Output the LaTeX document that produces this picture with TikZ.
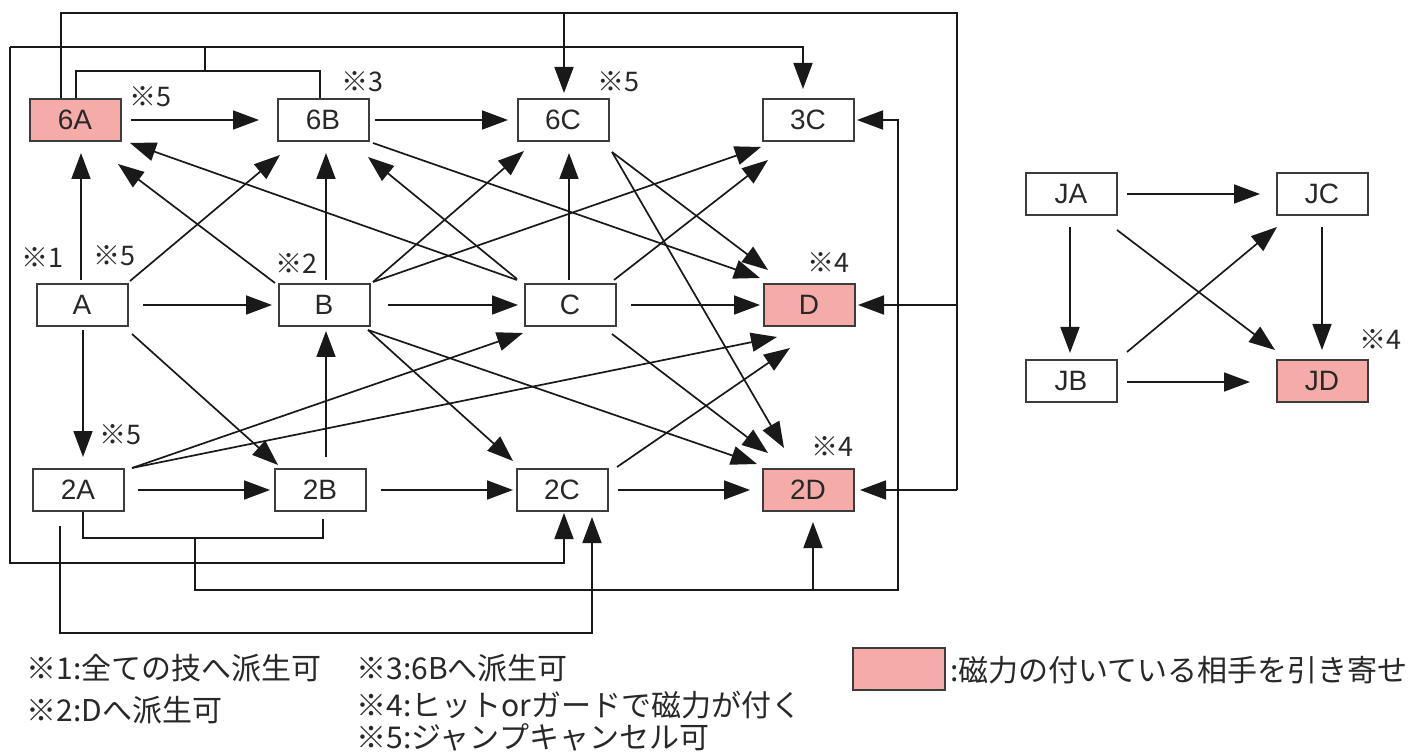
\documentclass[tikz,border=0pt]{standalone}
\usepackage{fontspec}
\setmainfont{Liberation Sans}
\newfontfamily\jp{Noto Sans CJK JP}
\usetikzlibrary{arrows.meta}
\definecolor{pinkc}{RGB}{245,172,168}
\definecolor{linec}{RGB}{25,25,25}
\definecolor{boxc}{RGB}{60,60,60}
\definecolor{textc}{RGB}{40,40,40}
\begin{document}
\begin{tikzpicture}[x=0.5pt,y=-0.5pt,
  box/.style={draw=boxc, line width=1pt, fill=white, minimum width=45.5pt, minimum height=21pt, inner sep=0pt, text=textc, font=\fontsize{14}{14}\selectfont},
  mag/.style={box, fill=pinkc},
  note/.style={font=\jp\fontsize{13.5}{13.5}\selectfont, inner sep=0pt, text=textc},
  legend/.style={font=\jp\fontsize{15}{15}\selectfont, inner sep=0pt, text=textc, anchor=west},
  ln/.style={draw=linec, line width=0.85pt},
  arr/.style={ln, -{Triangle[length=13pt,width=9.5pt]}},
]
\useasboundingbox[fill=white] (0,0) rectangle (1425,754);

% nodes
\node[mag] (n6A) at (75,120) {6A};
\node[box] (n6B) at (323,120) {6B};
\node[box] (n6C) at (563,120) {6C};
\node[box] (n3C) at (808,120) {3C};
\node[box] (nA) at (82,305) {A};
\node[box] (nB) at (324,305) {B};
\node[box] (nC) at (570,305) {C};
\node[mag] (nD) at (809,305) {D};
\node[box] (n2A) at (78,490) {2A};
\node[box] (n2B) at (320,490) {2B};
\node[box] (n2C) at (562,490) {2C};
\node[mag] (n2D) at (808,490) {2D};
\node[box] (JA) at (1071,194) {JA};
\node[box] (JC) at (1322,194) {JC};
\node[box] (JB) at (1071,381) {JB};
\node[mag] (JD) at (1322,381) {JD};

% notes
\node[note] (k5a) at (150,97) {※5};
\node[note] (k3) at (362,82) {※3};
\node[note] (k5c) at (618,82) {※5};
\node[note] (k1) at (42,258) {※1};
\node[note] (k5A) at (114,256) {※5};
\node[note] (k2) at (296,264) {※2};
\node[note] (k4D) at (828,263) {※4};
\node[note] (k42D) at (832,447) {※4};
\node[note] (k52A) at (120,435) {※5};
\node[note] (k4J) at (1380,340) {※4};

% horizontal arrows
\draw[arr] ([shift={(56,0)}]n6A.center) -- ([shift={(-64,0)}]n6B.center);
\draw[arr] ([shift={(52,0)}]n6B.center) -- ([shift={(-55,0)}]n6C.center);
\draw[arr] ([shift={(61,0)}]nA.center) -- ([shift={(-52,0)}]nB.center);
\draw[arr] ([shift={(64,0)}]nB.center) -- ([shift={(-52,0)}]nC.center);
\draw[arr] ([shift={(61,0)}]nC.center) -- ([shift={(-49,0)}]nD.center);
\draw[arr] ([shift={(60,0)}]n2A.center) -- ([shift={(-50,0)}]n2B.center);
\draw[arr] ([shift={(61,0)}]n2B.center) -- ([shift={(-49,0)}]n2C.center);
\draw[arr] ([shift={(56,0)}]n2C.center) -- ([shift={(-58,0)}]n2D.center);

% vertical arrows
\draw[arr] ([shift={(-1,-25)}]nA.center) -- ([shift={(6,33)}]n6A.center);
\draw[arr] ([shift={(2,-25)}]nB.center) -- ([shift={(3,33)}]n6B.center);
\draw[arr] ([shift={(-1,-25)}]nC.center) -- ([shift={(6,33)}]n6C.center);
\draw[arr] ([shift={(1,25)}]nA.center) -- ([shift={(5,-33)}]n2A.center);
\draw[arr] ([shift={(6,-33)}]n2B.center) -- ([shift={(2,26)}]nB.center);

% diagonal arrows (upwards)
\draw[arr] ([shift={(48,-24)}]nA.center) -- ([shift={(-43,35)}]n6B.center);
\draw[arr] ([shift={(-49,-22)}]nB.center) -- ([shift={(43,44)}]n6A.center);
\draw[arr] ([shift={(-53,-25)}]nC.center) -- ([shift={(55,23)}]n6A.center);
\draw[arr] ([shift={(-53,-26)}]nC.center) -- ([shift={(45,37)}]n6B.center);
\draw[arr] ([shift={(49,-23)}]nB.center) -- ([shift={(-39,31)}]n6C.center);
\draw[arr] ([shift={(49,-23)}]nB.center) -- ([shift={(-47,27)}]n3C.center);
\draw[arr] ([shift={(44,-25)}]nC.center) -- ([shift={(-40,40)}]n3C.center);
\draw[arr] ([shift={(54,-22)}]n2A.center) -- ([shift={(-47,28)}]nC.center);
\draw[arr] ([shift={(54,-22)}]n2A.center) -- ([shift={(-32,32)}]nD.center);
\draw[arr] ([shift={(55,-23)}]n2C.center) -- ([shift={(-19,43)}]nD.center);

% diagonal arrows (downwards)
\draw[arr] ([shift={(50,23)}]n6B.center) -- ([shift={(-49,-27)}]nD.center);
\draw[arr] ([shift={(49,32)}]n6C.center) -- ([shift={(-41,-35)}]nD.center);
\draw[arr] ([shift={(49,32)}]n6C.center) -- ([shift={(-24,-42)}]n2D.center);
\draw[arr] ([shift={(50,29)}]nA.center) -- ([shift={(-42,-25)}]n2B.center);
\draw[arr] ([shift={(44,25)}]nB.center) -- ([shift={(-49,-29)}]n2C.center);
\draw[arr] ([shift={(44,25)}]nB.center) -- ([shift={(-51,-26)}]n2D.center);
\draw[arr] ([shift={(42,29)}]nC.center) -- ([shift={(-40,-37)}]n2D.center);

% bus 1 (from 6A over the top, down the right side)
\coordinate (r1) at (957,13);
\coordinate (t6C) at (564,13);
\draw[ln] ([shift={(-14,0)}]n6A.north) |- (r1) -- (957,490);
\draw[arr] (957,490) -- ([shift={(52,0)}]n2D.center);
\draw[arr] (957,305) -- ([shift={(49,0)}]nD.center);
\draw[arr] (t6C) -- ([shift={(1,-27)}]n6C.center);

% bus 2 (6A + 6B)
\coordinate (c47L) at (10,47);
\coordinate (c47R) at (803,47);
\draw[ln] ([shift={(1,0)}]n6A.north) -- ++(0,-27) -| ([shift={(-3,0)}]n6B.north);
\draw[ln] (205,72) -- (205,47);
\draw[arr] (c47L) -- (c47R) -- ([shift={(-5,-31)}]n3C.center);
\draw[arr] (c47L) -- (10,563) -| ([shift={(2,23)}]n2C.center);

% bus 3 (2A + 2B)
\draw[ln] ([shift={(5,0)}]n2A.south) -- ++(0,26) -| ([shift={(3,7)}]n2B.south);
\draw[arr] (195,537) |- (898,590) -- (898,120) -- ([shift={(49,0)}]n3C.center);
\draw[arr] (813,590) -- ([shift={(5,32)}]n2D.center);

% bus 4 (2A -> 2C)
\draw[arr] ([shift={(-18,14)}]n2A.south) |- (592,633) -- ([shift={(30,27)}]n2C.center);

% J group
\draw[arr] ([shift={(56,0)}]JA.center) -- ([shift={(-62,0)}]JC.center);
\draw[arr] ([shift={(-1,33)}]JA.center) -- ([shift={(-1,-28)}]JB.center);
\draw[arr] ([shift={(0,33)}]JC.center) -- ([shift={(0,-31)}]JD.center);
\draw[arr] ([shift={(56,1)}]JB.center) -- ([shift={(-72,1)}]JD.center);
\draw[arr] ([shift={(46,36)}]JA.center) -- ([shift={(-47,-31)}]JD.center);
\draw[arr] ([shift={(56,-29)}]JB.center) -- ([shift={(-45,33)}]JC.center);

% legend
\node[legend] (l1) at (26,668) {※1:全ての技へ派生可};
\node[legend] (l2) at (26,710) {※2:Dへ派生可};
\node[legend] (l3) at (356,668) {※3:6Bへ派生可};
\node[legend] (l4) at (356,705) {※4:ヒットorガードで磁力が付く};
\node[legend] (l5) at (356,737) {※5:ジャンプキャンセル可};
\node[mag, minimum width=46pt] (lg) at (899,669) {};
\node[legend] (lgt) at (950,670) {:磁力の付いている相手を引き寄せ};
\end{tikzpicture}
\end{document}
